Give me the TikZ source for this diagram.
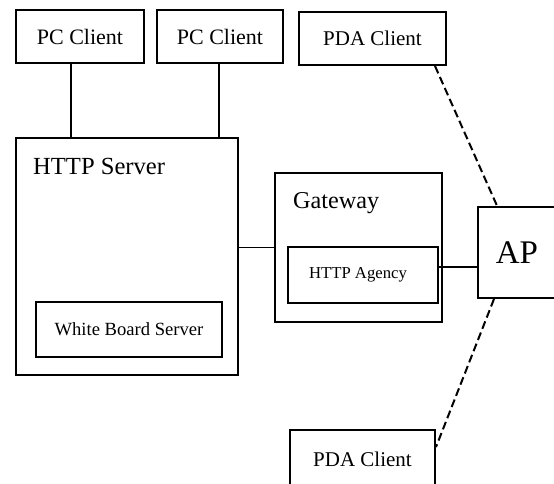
\documentclass[tikz,border=0pt]{standalone}
\usepackage{fontspec}
\setmainfont{Liberation Serif}
\begin{document}
\begin{tikzpicture}[x=1pt,y=-1pt,
  box/.style={draw, line width=2pt, inner sep=0pt, rectangle},
  link/.style={line width=1.8pt},
  wireless/.style={line width=2pt, dash pattern=on 8pt off 4pt},
  title/.style={inner sep=0pt, anchor=base west}]
\useasboundingbox[fill=white] (0,0) rectangle (554,484);
% boxes
\node[box, minimum width=128pt, minimum height=53pt, font=\fontsize{22}{24}\selectfont] (pc1) at (80,36.5) {PC Client};
\node[box, minimum width=126pt, minimum height=53pt, font=\fontsize{22}{24}\selectfont] (pc2) at (220,36.5) {PC Client};
\node[box, minimum width=147pt, minimum height=53pt, font=\fontsize{21}{23}\selectfont] (pda1) at (372.5,38.5) {PDA Client};
\node[box, minimum width=222pt, minimum height=237pt] (server) at (127,256.5) {};
\node[title, font=\fontsize{24.6}{26}\selectfont] (servert) at (33,175) {HTTP Server};
\node[box, minimum width=186pt, minimum height=55pt, font=\fontsize{18.6}{20}\selectfont] (wbs) at (129,329.5) {White Board Server};
\node[box, minimum width=167pt, minimum height=149pt] (gateway) at (358.5,247.5) {};
\node[title, font=\fontsize{24.2}{26}\selectfont] (gatewayt) at (293,208) {Gateway};
\node[box, minimum width=150pt, minimum height=56pt, font=\fontsize{16.7}{18}\selectfont] (agency) at (363,275) {\hspace*{-10pt}\raisebox{4pt}{HTTP Agency}};
\node[box, minimum width=78pt, minimum height=91pt, font=\fontsize{33}{35}\selectfont] (ap) at (517,252.5) {AP};
\node[box, minimum width=145pt, minimum height=58pt, font=\fontsize{21}{23}\selectfont] (pda2) at (362.5,459) {PDA Client};
% connectors
\draw[link] ([xshift=-9pt]pc1.south) -- ([xshift=-9pt]pc1.south |- server.north);
\draw[link] ([xshift=-1pt]pc2.south) -- ([xshift=-1pt]pc2.south |- server.north);
\draw[link] (server.east |- gateway.west) -- (gateway.west);
\draw[link] ([yshift=8pt]agency.east) -- ([yshift=8pt]agency.east -| ap.west);
\draw[wireless] ([xshift=62.5pt]pda1.south) -- ([xshift=-19pt,yshift=-2pt]ap.north);
\draw[wireless] ([xshift=-23pt]ap.south) -- ([yshift=12pt]pda2.east);
\end{tikzpicture}
\end{document}
